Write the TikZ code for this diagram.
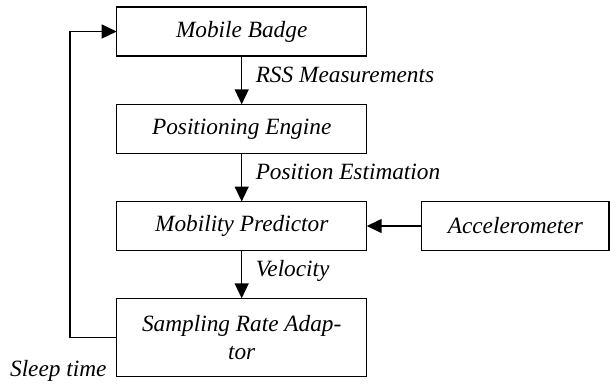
\documentclass[tikz,border=0pt]{standalone}
\usepackage{fontspec}
\setmainfont{Liberation Serif}
\usetikzlibrary{arrows.meta,calc}
\begin{document}
\begin{tikzpicture}[x=1pt,y=-1pt,
  txt/.style={font=\fontsize{23.3}{28}\selectfont\itshape},
  box/.style={txt, draw, line width=1.5pt, minimum width=250pt, minimum height=49pt,
    inner sep=0pt, outer sep=0pt, align=center},
  lab/.style={txt, inner sep=0pt, text height=0.7em, text depth=0.25em, anchor=west},
  conn/.style={line width=1.5pt, -{Triangle[length=15pt,width=14pt]}}]
\useasboundingbox (0,0) rectangle (610,386);
\node[box] (mb) at (241.7,31.5) {Mobile Badge};
\node[box] (pe) at (241.7,128.8) {Positioning Engine};
\node[box] (mp) at (241.7,226) {Mobility Predictor};
\node[box, minimum width=187.3pt] (acc) at (515.3,226) {Accelerometer};
\node[box, minimum height=78.4pt] (sr) at (241.7,337.5) {Sampling Rate Adap-\\tor};
\draw[conn] (mb) -- node[lab, xshift=13.3pt] (l1) {RSS Measurements} (pe);
\draw[conn] (pe) -- node[lab, xshift=13.3pt] (l2) {Position Estimation} (mp);
\draw[conn] (mp) -- node[lab, xshift=13.3pt] (l3) {Velocity} (sr);
\draw[conn] (acc) -- (mp);
\coordinate (fb) at (70,337.5);
\draw[conn] (sr.west) -- (fb) |- (mb.west);
\node[txt, inner sep=0pt, anchor=base east] (st) at ($(sr.south west)+(-10,0)$) {Sleep time};
\end{tikzpicture}
\end{document}
